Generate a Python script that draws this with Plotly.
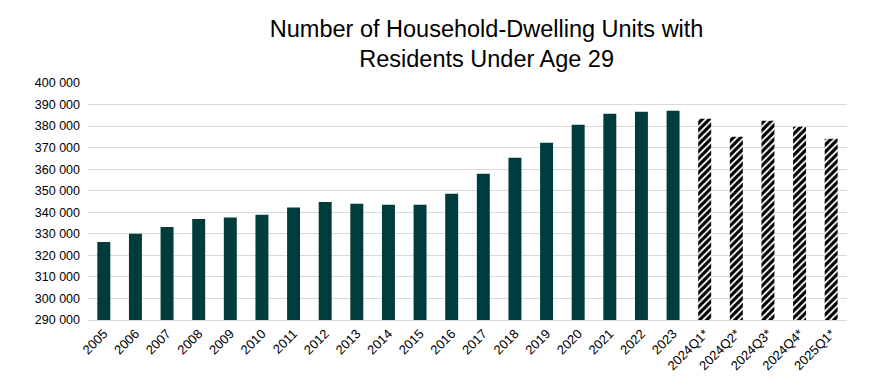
import plotly.graph_objects as go

actual_labels = [str(y) for y in range(2005, 2024)]
actual_values = [326250, 330000, 333200, 336900, 337600, 338800, 342200, 344800,
                 343900, 343500, 343500, 348600, 357900, 365300, 372300, 380600,
                 385700, 386700, 387100]
est_labels = ["2024Q1*", "2024Q2*", "2024Q3*", "2024Q4*", "2025Q1*"]
est_values = [383400, 375100, 382500, 379700, 374100]

title_text = "Number of Household-Dwelling Units with<br>Residents Under Age 29"

fig = go.Figure()
fig.add_trace(go.Bar(x=actual_labels, y=actual_values, width=0.41,
                     marker=dict(color="#003c3c", line=dict(width=0))))
fig.add_trace(go.Bar(x=est_labels, y=est_values, width=0.41,
                     marker=dict(color="white", line=dict(width=0),
                                 pattern=dict(shape="/", fgcolor="black", bgcolor="white",
                                              fgopacity=1, size=5, solidity=0.65))))

fig.update_layout(
    width=888, height=385,
    margin=dict(l=80, r=49, t=75, b=73),
    paper_bgcolor="white", plot_bgcolor="white",
    showlegend=False, barmode="overlay",
    separators=", ",
    font=dict(family="Liberation Sans, Arial", color="black", size=12),
    title=dict(text=title_text, x=0.539, xanchor="center", y=0.925, yanchor="top",
               font=dict(size=23.5, color="black")),
)
fig.update_xaxes(type="category", categoryorder="array",
                 categoryarray=actual_labels + est_labels,
                 tickangle=-45, showgrid=False, showline=True, linecolor="#d9d9d9",
                 ticks="", tickfont=dict(size=13), automargin=False)
fig.update_yaxes(range=[290000, 400000], dtick=10000, tickformat=",d",
                 showgrid=True, gridcolor="#d9d9d9", gridwidth=1, zeroline=False,
                 ticks="", tickfont=dict(size=12.5), ticklabelstandoff=7,
                 automargin=False)

fig.write_html("out.html")
